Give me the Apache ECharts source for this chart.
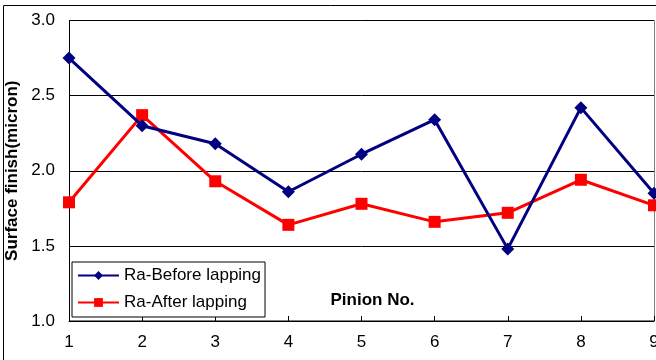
<!DOCTYPE html>
<html><head><meta charset="utf-8">
<script src="https://cdn.jsdelivr.net/npm/echarts@6/dist/echarts.min.js"></script>
<style>html,body{margin:0;padding:0;background:#fff}#c{width:656px;height:360px}</style>
</head><body><div id="c"></div>
<script>
var categories = ['1','2','3','4','5','6','7','8','9'];
var beforeLapping = [2.75, 2.30, 2.18, 1.86, 2.11, 2.34, 1.48, 2.42, 1.85];
var afterLapping = [1.79, 2.37, 1.93, 1.64, 1.78, 1.66, 1.72, 1.94, 1.77];
var seriesNames = ['Ra-Before lapping', 'Ra-After lapping'];

var chart = echarts.init(document.getElementById('c'), null, {renderer:'canvas'});
var font = 'Liberation Sans, Arial, sans-serif';
chart.setOption({
  animation: false,
  backgroundColor: '#fff',
  graphic: [{
    type: 'rect', shape: {x: 3.5, y: 5.5, width: 700, height: 400},
    style: {fill: 'none', stroke: '#000', lineWidth: 1}, z: -1
  }, {
    type: 'rect', shape: {x: 69.5, y: 20.5, width: 585, height: 300},
    style: {fill: 'none', stroke: '#808080', lineWidth: 1}, z: 0
  }],
  grid: {left: 69, right: 2, top: 20.5, bottom: 39, containLabel: false, outerBoundsMode: 'none'},
  legend: {
    left: 72, top: 262, orient: 'vertical',
    data: seriesNames,
    borderColor: '#000', borderWidth: 1, backgroundColor: '#fff', borderRadius: 0,
    padding: [5, 4, 6, 5], itemGap: 10, itemWidth: 41, itemHeight: 11,
    textStyle: {fontFamily: font, fontSize: 17, color: '#000'}
  },
  xAxis: {
    type: 'category', data: categories, boundaryGap: false,
    name: 'Pinion No.', nameLocation: 'middle', nameGap: -21,
    nameTextStyle: {fontFamily: font, fontSize: 17, fontWeight: 'bold', color: '#000', verticalAlign: 'middle', padding: [0, 0, 0, 22]},
    axisLine: {lineStyle: {color: '#000', width: 1}},
    axisTick: {show: true, inside: true, length: 5, lineStyle: {color: '#000'}},
    axisLabel: {fontFamily: font, fontSize: 17, color: '#000', margin: 13},
    splitLine: {show: false}
  },
  yAxis: {
    type: 'value', min: 1.0, max: 3.0, interval: 0.5,
    name: 'Surface finish(micron)', nameLocation: 'middle', nameGap: 39,
    nameTextStyle: {fontFamily: font, fontSize: 17, fontWeight: 'bold', color: '#000'},
    axisLine: {show: true, lineStyle: {color: '#000', width: 1}},
    axisTick: {show: false},
    axisLabel: {fontFamily: font, fontSize: 17, color: '#000', margin: 14,
      formatter: function(v){ return v.toFixed(1); }},
    splitLine: {show: true, lineStyle: {color: '#000', width: 1}}
  },
  series: [{
    name: seriesNames[0], type: 'line', data: beforeLapping,
    symbol: 'diamond', symbolSize: [13, 13],
    lineStyle: {color: '#000080', width: 3},
    itemStyle: {color: '#000080'}, z: 3
  }, {
    name: seriesNames[1], type: 'line', data: afterLapping,
    symbol: 'rect', symbolSize: [12, 12],
    lineStyle: {color: '#ff0000', width: 3},
    itemStyle: {color: '#ff0000'}, z: 2
  }]
});
</script></body></html>
